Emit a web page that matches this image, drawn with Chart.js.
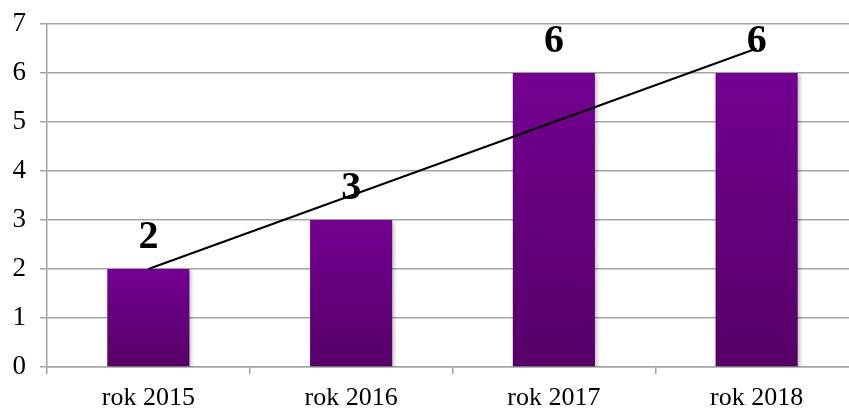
<!DOCTYPE html>
<html>
<head>
<meta charset="utf-8">
<script src="https://cdn.jsdelivr.net/npm/chart.js@4/dist/chart.umd.min.js"></script>
<style>
  html, body { margin: 0; padding: 0; background: #fff; overflow: hidden; }
  #wrap { position: relative; width: 858px; height: 408px; }
</style>
</head>
<body>
<div id="wrap"><canvas id="chart"></canvas></div>
<script>
const categories = ['rok 2015', 'rok 2016', 'rok 2017', 'rok 2018'];
const barValues = [2, 3, 6, 6];
// linear trend line
const trendValues = [2, 3.5, 5, 6.5];
const yTicks = [0, 1, 2, 3, 4, 5, 6, 7];

const serif = '"Liberation Serif", "Times New Roman", serif';
const gridColor = '#a3a3a3';

function barGradient(c) {
  const chart = c.chart;
  if (!chart.chartArea || c.raw === undefined) return '#6a0088';
  const y = chart.scales.y;
  const top = y.getPixelForValue(c.raw);
  const bottom = y.getPixelForValue(0);
  const g = chart.ctx.createLinearGradient(0, top, 0, bottom);
  g.addColorStop(0, '#730091');
  g.addColorStop(1, '#560067');
  return g;
}

const valueLabels = {
  id: 'valueLabels',
  beforeDatasetDraw(chart, args) {
    if (args.index !== 0) return;
    const ctx = chart.ctx;
    ctx.save();
    ctx.shadowColor = 'rgba(0,0,0,0.25)';
    ctx.shadowBlur = 4;
    ctx.shadowOffsetX = 2;
    ctx.shadowOffsetY = 2;
  },
  afterDatasetDraw(chart, args) {
    if (args.index !== 0) return;
    const ctx = chart.ctx;
    ctx.restore();
    ctx.save();
    ctx.font = 'bold 40px ' + serif;
    ctx.fillStyle = '#000';
    ctx.textAlign = 'center';
    ctx.textBaseline = 'alphabetic';
    args.meta.data.forEach((bar, i) => {
      ctx.fillText(String(barValues[i]), bar.x, bar.y - 21);
    });
    ctx.restore();
  }
};

new Chart(document.getElementById('chart'), {
  type: 'bar',
  data: {
    labels: categories,
    datasets: [{
      type: 'bar',
      data: barValues,
      backgroundColor: barGradient,
      borderWidth: 0,
      categoryPercentage: 1,
      barPercentage: 0.405,
      order: 2
    }, {
      type: 'line',
      data: trendValues,
      borderColor: '#000',
      borderWidth: 2,
      pointRadius: 0,
      fill: false,
      tension: 0,
      order: 1
    }]
  },
  options: {
    responsive: true,
    maintainAspectRatio: false,
    animation: false,
    layout: { padding: { top: 24, left: 0, right: 0, bottom: 0 } },
    plugins: {
      legend: { display: false },
      tooltip: { enabled: false }
    },
    scales: {
      x: {
        offset: true,
        afterFit(axis) { axis.height = 41; },
        grid: {
          offset: true,
          drawOnChartArea: false,
          drawTicks: true,
          tickLength: 7,
          color: gridColor,
          lineWidth: 1.5
        },
        border: { color: gridColor, width: 1.5 },
        ticks: {
          color: '#000',
          font: { family: serif, size: 26 },
          padding: 9,
          maxRotation: 0
        }
      },
      y: {
        min: 0,
        max: 7,
        afterBuildTicks(axis) {
          axis.ticks = yTicks.map(v => ({ value: v }));
        },
        afterFit(axis) {
          axis.width = 47;
          axis.paddingTop = 0;
          axis.paddingBottom = 0;
        },
        grid: {
          color: gridColor,
          lineWidth: 1.5,
          tickLength: 7
        },
        border: { color: gridColor, width: 1.5 },
        ticks: {
          color: '#000',
          font: { family: serif, size: 27 },
          padding: 14
        }
      }
    }
  },
  plugins: [valueLabels]
});
</script>
</body>
</html>
